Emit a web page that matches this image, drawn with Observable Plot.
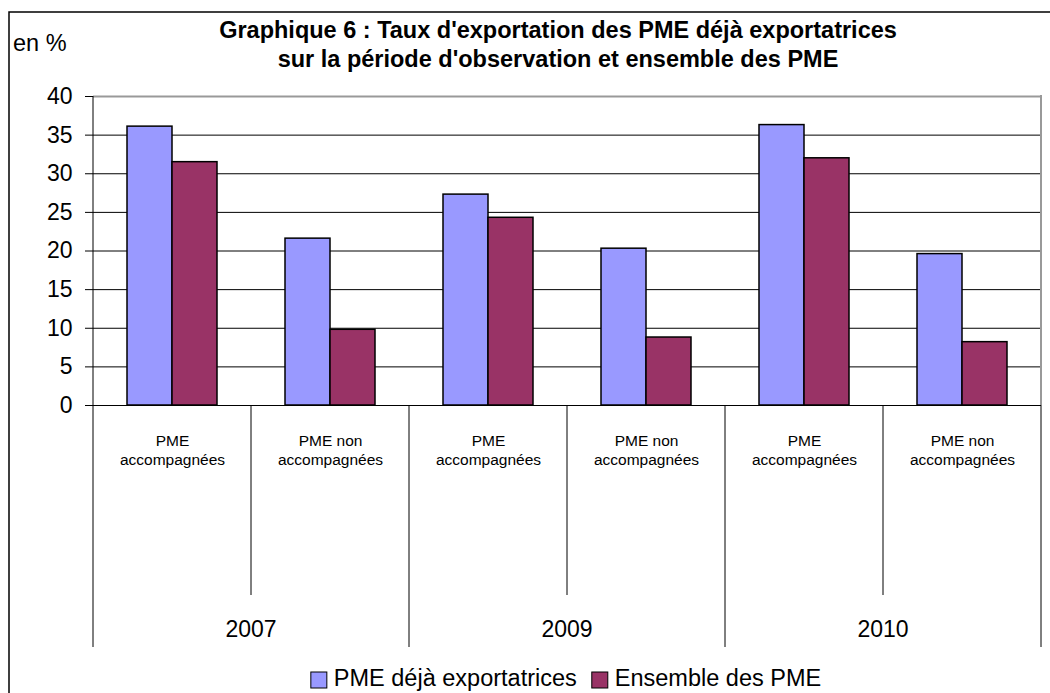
<!DOCTYPE html>
<html>
<head>
<meta charset="utf-8">
<script src="https://cdn.jsdelivr.net/npm/d3@7"></script>
<script src="https://cdn.jsdelivr.net/npm/@observablehq/plot@0.6"></script>
<style>
html, body { margin: 0; padding: 0; background: #fff; }
#chart { position: relative; width: 1050px; height: 693px; overflow: hidden; }
#chart svg { font-family: "Liberation Sans", Arial, sans-serif; }
</style>
</head>
<body>
<div id="chart"></div>
<script>
// ---- data ----
const years = ["2007", "2009", "2010"];
const groups = ["PME accompagnées", "PME non accompagnées"];
const groupLabels = ["PME\naccompagnées", "PME non\naccompagnées"];
const seriesNames = ["PME déjà exportatrices", "Ensemble des PME"];
const seriesColors = ["#9999FF", "#993366"];
const exportatrices = [36.1, 21.6, 27.3, 20.3, 36.3, 19.6];
const ensemble = [31.5, 9.8, 24.3, 8.8, 32.0, 8.2];
const yTicks = [0, 5, 10, 15, 20, 25, 30, 35, 40];
const titleLines = ["Graphique 6 : Taux d'exportation des PME déjà exportatrices",
                    "sur la période d'observation et ensemble des PME"];
const yUnit = "en %";

// ---- table ----
const cats = years.flatMap(y => groups.map(g => y + "|" + g));
const data = [];
cats.forEach((c, i) => {
  data.push({cat: c, series: seriesNames[0], value: exportatrices[i]});
  data.push({cat: c, series: seriesNames[1], value: ensemble[i]});
});
const font = "'Liberation Sans', Arial, sans-serif";

const plot = Plot.plot({
  width: 1050,
  height: 693,
  marginLeft: 91,
  marginRight: 7,
  marginTop: 96,
  marginBottom: 288,
  style: {fontFamily: font, background: "white", color: "black", overflow: "visible"},
  fx: {domain: cats, padding: 0, label: null},
  x: {domain: seriesNames, paddingInner: 0, paddingOuter: 0.75, axis: null},
  y: {domain: [0, 40], label: null},
  color: {domain: seriesNames, range: seriesColors},
  marks: [
    Plot.ruleY(yTicks.filter(t => t > 0 && t < 40), {stroke: "#000", strokeWidth: 1}),
    Plot.ruleY([40], {stroke: "#999", strokeWidth: 2}),
    Plot.barY(data, {fx: "cat", x: "series", y: "value", fill: "series", stroke: "#000", strokeWidth: 1.5}),
    Plot.ruleY([0], {stroke: "#000", strokeWidth: 1}),
    Plot.axisY(yTicks, {anchor: "left", tickSize: 8, tickPadding: 13, fontSize: 23, label: null, stroke: "#000"}),
    Plot.axisFx({anchor: "bottom", tickSize: 0, tickPadding: 27, fontSize: 15.5, lineHeight: 1.22, label: null,
      tickFormat: c => groupLabels[groups.indexOf(c.split("|")[1])]})
  ]
});
document.getElementById("chart").appendChild(plot);

// ---- decorations using the plot's own scales ----
const svg = d3.select(plot);
const fx = plot.scale("fx");
const y = plot.scale("y");
const color = plot.scale("color");
const bw = fx.bandwidth;
const y0 = y.apply(0), yTop = y.apply(40);
const left = fx.apply(cats[0]);
const right = fx.apply(cats[cats.length - 1]) + bw;
const g = svg.append("g").attr("text-anchor", "start");

// outer border (top + left)
g.append("path").attr("d", `M9,1000V12H1100`).attr("fill", "none").attr("stroke", "#000").attr("stroke-width", 1.5);

// right plot border (grey)
g.append("line").attr("x1", right).attr("x2", right).attr("y1", yTop - 1).attr("y2", y0)
  .attr("stroke", "#999").attr("stroke-width", 2);
// left axis line
g.append("line").attr("x1", left).attr("x2", left).attr("y1", yTop).attr("y2", 647)
  .attr("stroke", "#000").attr("stroke-width", 1);
// category dividers below axis
cats.forEach((c, i) => {
  if (i === 0) return;
  const xx = fx.apply(c);
  g.append("line").attr("x1", xx).attr("x2", xx).attr("y1", y0).attr("y2", i % 2 === 0 ? 647 : 595)
    .attr("stroke", "#000").attr("stroke-width", 1);
});
g.append("line").attr("x1", right).attr("x2", right).attr("y1", y0).attr("y2", 647)
  .attr("stroke", "#000").attr("stroke-width", 1);
// year labels
years.forEach((yr, k) => {
  const xx = fx.apply(cats[2 * k + 1]);
  g.append("text").attr("x", xx).attr("y", 637).attr("text-anchor", "middle")
    .attr("font-size", 23).attr("font-family", font).attr("fill", "#000").text(yr);
});

// title
const cx = (left + right) / 2 - 9;
titleLines.forEach((t, i) => {
  g.append("text").attr("x", cx).attr("y", 38 + i * 29).attr("text-anchor", "middle")
    .attr("font-size", 23.5).attr("font-weight", "bold").attr("font-family", font).attr("fill", "#000").text(t);
});
// unit
g.append("text").attr("x", 13).attr("y", 51).attr("text-anchor", "start").attr("font-size", 23.5)
  .attr("font-family", font).attr("fill", "#000").text(yUnit);

// legend
const lg = g.append("g");
let lx = 0;
seriesNames.forEach((s, i) => {
  const it = lg.append("g").attr("transform", `translate(${lx},0)`);
  it.append("rect").attr("x", 0).attr("y", -14).attr("width", 16).attr("height", 16)
    .attr("fill", color.apply(s)).attr("stroke", "#000").attr("stroke-width", 1);
  const tx = it.append("text").attr("x", 23).attr("y", 0).attr("text-anchor", "start").attr("font-size", 23.5)
    .attr("font-family", font).attr("fill", "#000").text(s);
  lx += 23 + tx.node().getComputedTextLength() + 15;
});
const lw = lx - 15;
lg.attr("transform", `translate(${(left + right) / 2 - 1 - lw / 2},686)`);
</script>
</body>
</html>
